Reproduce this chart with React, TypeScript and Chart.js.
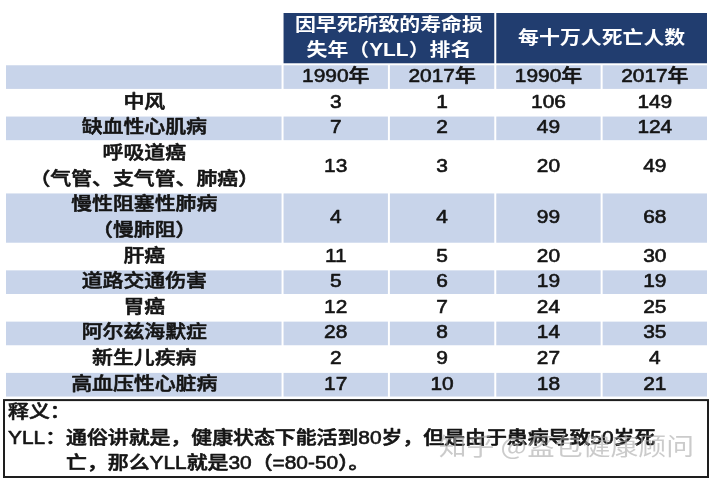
import { useEffect, useRef } from 'react';
import { Chart, registerables } from 'chart.js';

Chart.register(...registerables);

// ---- data ----
const diseases = [
  '中风',
  '缺血性心肌病',
  '呼吸道癌\n（气管、支气管、肺癌）',
  '慢性阻塞性肺病\n（慢肺阻）',
  '肝癌',
  '道路交通伤害',
  '胃癌',
  '阿尔兹海默症',
  '新生儿疾病',
  '高血压性心脏病',
];
const yllRank1990 = [3, 7, 13, 4, 11, 5, 12, 28, 2, 17];
const yllRank2017 = [1, 2, 3, 4, 5, 6, 7, 8, 9, 10];
const deaths1990 = [106, 49, 20, 99, 20, 19, 24, 14, 27, 18];
const deaths2017 = [149, 124, 49, 68, 30, 19, 25, 35, 4, 21];
const yearLabels = ['1990年', '2017年', '1990年', '2017年'];
const groupHeaders = ['因早死所致的寿命损\n失年（YLL）排名', '每十万人死亡人数'];
const noteTitle = '释义：';
const notePrefix = 'YLL：';
const noteLine1 = '通俗讲就是，健康状态下能活到80岁，但是由于患病导致50岁死';
const noteLine2 = '亡，那么YLL就是30（=80-50）。';
const watermark = '知乎 @盔包健康顾问';

// ---- layout (in scale units) ----
const COL_EDGES = [0, 2.6, 3.6, 4.6, 5.6, 6.6];
const HEADER1_LINES = 2;
const HEADER2_LINES = 1;
const NOTE_GAP = 0.1;
const NOTE_LINES = 3;

const rowLines = diseases.map((d) => d.split('\n').length);
const rowStarts: number[] = [];
{
  let acc = HEADER1_LINES + HEADER2_LINES;
  rowLines.forEach((n) => {
    rowStarts.push(acc);
    acc += n;
  });
}
const TABLE_END = rowStarts[rowStarts.length - 1] + rowLines[rowLines.length - 1];
const NOTE_START = TABLE_END + NOTE_GAP;
const Y_MAX = NOTE_START + NOTE_LINES;

const colCenter = (c: number) => (COL_EDGES[c] + COL_EDGES[c + 1]) / 2;
const rowCenter = (r: number) => rowStarts[r] + rowLines[r] / 2;

const DARK = '#213d6f';
const LIGHT = '#c8d4ea';
const TEXT = '#151515';
const SX = 1.16;
const HEAD_FONT = 'bold 18px "Liberation Sans", "Noto Sans CJK SC", sans-serif';
const FONT = '500 18px "Liberation Sans", "Noto Sans CJK SC", sans-serif';

function drawText(
  ctx: CanvasRenderingContext2D,
  text: string,
  x: number,
  y: number,
  font: string,
  color: string,
  align: CanvasTextAlign = 'center',
  stroke = 0
) {
  ctx.save();
  ctx.font = font;
  ctx.fillStyle = color;
  ctx.strokeStyle = color;
  ctx.textAlign = align;
  ctx.textBaseline = 'middle';
  ctx.translate(x, y);
  ctx.scale(SX, 1);
  ctx.fillText(text, 0, 0);
  if (stroke > 0) {
    ctx.lineWidth = stroke;
    ctx.lineJoin = 'round';
    ctx.strokeText(text, 0, 0);
  }
  ctx.restore();
}

const columns = [yllRank1990, yllRank2017, deaths1990, deaths2017];
const BODY_STROKE = 0.6;

const tablePlugin = {
  id: 'tablePlugin',
  beforeDatasetsDraw(chart: any) {
    const { ctx } = chart;
    const xs = chart.scales.x;
    const ys = chart.scales.y;
    const X = (v: number) => xs.getPixelForValue(v);
    const Y = (v: number) => ys.getPixelForValue(v);
    ctx.save();
    // header row 1 (group headers)
    const groups = [
      [1, 3],
      [3, 5],
    ];
    groups.forEach(([a, b], gi) => {
      const x0 = X(COL_EDGES[a]) + 1;
      const x1 = X(COL_EDGES[b]) - 1;
      const y0 = Y(0);
      const y1 = Y(HEADER1_LINES) - 1;
      ctx.fillStyle = DARK;
      ctx.fillRect(x0, y0, x1 - x0, y1 - y0);
      const lines = groupHeaders[gi].split('\n');
      lines.forEach((ln, li) => {
        const cy = lines.length === 1 ? Y(HEADER1_LINES / 2) : Y(li + 0.5);
        drawText(ctx, ln, (x0 + x1) / 2, cy, HEAD_FONT, '#ffffff');
      });
    });
    // header row 2
    for (let c = 0; c < 5; c++) {
      const x0 = X(COL_EDGES[c]) + (c === 0 ? 0 : 1);
      const x1 = X(COL_EDGES[c + 1]) - 1;
      const y0 = Y(HEADER1_LINES) + 1;
      const y1 = Y(HEADER1_LINES + HEADER2_LINES) - 1;
      ctx.fillStyle = LIGHT;
      ctx.fillRect(x0, y0, x1 - x0, y1 - y0);
      if (c > 0)
        drawText(ctx, yearLabels[c - 1], (x0 + x1) / 2, Y(HEADER1_LINES + 0.5), FONT, TEXT, 'center', BODY_STROKE);
    }
    // data rows
    diseases.forEach((d, r) => {
      if (r % 2 === 1) {
        for (let c = 0; c < 5; c++) {
          const x0 = X(COL_EDGES[c]) + (c === 0 ? 0 : 1);
          const x1 = X(COL_EDGES[c + 1]) - 1;
          const y0 = Y(rowStarts[r]) + 1;
          const y1 = Y(rowStarts[r] + rowLines[r]) - 1;
          ctx.fillStyle = LIGHT;
          ctx.fillRect(x0, y0, x1 - x0, y1 - y0);
        }
      }
      const lines = d.split('\n');
      lines.forEach((ln, li) => {
        drawText(ctx, ln, X(colCenter(0)), Y(rowStarts[r] + li + 0.5), FONT, TEXT, 'center', BODY_STROKE);
      });
    });
    // note box
    const nx0 = X(0) - 2;
    const nx1 = X(COL_EDGES[5]);
    const ny0 = Y(NOTE_START);
    const ny1 = Y(Y_MAX);
    ctx.strokeStyle = '#1e1e1e';
    ctx.lineWidth = 2;
    ctx.strokeRect(nx0, ny0, nx1 - nx0, ny1 - ny0);
    const tx = nx0 + 4;
    drawText(ctx, noteTitle, tx, Y(NOTE_START + 0.5), FONT, TEXT, 'left', BODY_STROKE);
    drawText(ctx, notePrefix + noteLine1, tx, Y(NOTE_START + 1.5), FONT, TEXT, 'left', BODY_STROKE);
    ctx.font = FONT;
    const indent = ctx.measureText(notePrefix).width * SX;
    drawText(ctx, noteLine2, tx + indent, Y(NOTE_START + 2.5), FONT, TEXT, 'left', BODY_STROKE);
    // watermark
    ctx.save();
    ctx.globalAlpha = 0.6;
    drawText(ctx, watermark, nx1 - 14, Y(NOTE_START + 1.8), '24px "Noto Sans CJK SC", sans-serif', '#a9a9a9', 'right');
    ctx.restore();
    ctx.restore();
  },
  afterDatasetsDraw(chart: any) {
    const { ctx } = chart;
    chart.data.datasets.forEach((ds: any, di: number) => {
      const meta = chart.getDatasetMeta(di);
      meta.data.forEach((pt: any, i: number) => {
        drawText(ctx, String(columns[di][i]), pt.x, pt.y, FONT, TEXT, 'center', BODY_STROKE);
      });
    });
  },
};

export default function App() {
  const ref = useRef<HTMLCanvasElement>(null);
  useEffect(() => {
    document.body.style.margin = '0';
    const chart = new Chart(ref.current!, {
      type: 'scatter',
      data: {
        datasets: columns.map((col, ci) => ({
          label: yearLabels[ci],
          data: col.map((_, r) => ({ x: colCenter(ci + 1), y: rowCenter(r) })),
          pointRadius: 0,
          pointHoverRadius: 0,
        })),
      },
      options: {
        animation: false,
        responsive: false,
        devicePixelRatio: 1,
        layout: { padding: { left: 6, right: 5, top: 13, bottom: 5 } },
        plugins: { legend: { display: false }, tooltip: { enabled: false } },
        events: [],
        scales: {
          x: { type: 'linear', min: 0, max: COL_EDGES[5], display: false },
          y: { type: 'linear', min: 0, max: Y_MAX, reverse: true, display: false },
        },
      },
      plugins: [tablePlugin],
    });
    return () => chart.destroy();
  }, []);
  return (
    <div style={{ width: 713, height: 482, background: '#ffffff' }}>
      <canvas ref={ref} width={713} height={482} style={{ display: 'block' }} />
    </div>
  );
}
